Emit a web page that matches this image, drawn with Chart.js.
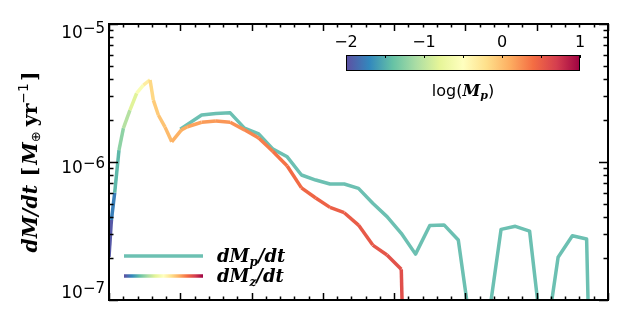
<!DOCTYPE html>
<html>
<head>
<meta charset="utf-8">
<script src="https://cdn.jsdelivr.net/npm/chart.js@4/dist/chart.umd.min.js"></script>
<style>
html, body { margin: 0; padding: 0; background: #fff; }
</style>
</head>
<body>
<canvas id="rateChart" width="641" height="311"></canvas>
<script>
// dM_z/dt, coloured by log(M_p)
var mzTime = [0, 0.17, 0.4, 0.7, 1.01, 1.47, 1.94, 2.41, 2.88, 3.11, 3.46, 3.93, 4.4, 5.08, 5.5,
    6.5, 7.5, 8.5, 9.5, 10.5, 11.5, 12.5, 13.5, 14.5, 15.5, 16.5, 17.5, 18.5, 19.5, 20.5, 21.5]
var mzRate = [2.05e-7, 3.8e-7, 6.0e-7, 1.22e-6, 1.76e-6, 2.38e-6, 3.15e-6, 3.61e-6, 3.93e-6, 2.81e-6, 2.19e-6,
    1.79e-6, 1.40e-6, 1.71e-6, 1.80e-6, 1.94e-6, 1.98e-6, 1.94e-6, 1.71e-6, 1.49e-6, 1.19e-6, 9.35e-7,
    6.49e-7, 5.48e-7, 4.69e-7, 4.29e-7, 3.49e-7, 2.5e-7, 2.12e-7, 1.67e-7, 1e-11]
var mzLogMp = [-2.0, -1.9, -1.6, -1.3, -1.15, -0.95, -0.7, -0.45, -0.2, -0.1, -0.05, 0.0, 0.05, 0.1, 0.12,
    0.18, 0.2, 0.22, 0.26, 0.3, 0.35, 0.4, 0.43, 0.46, 0.48, 0.5, 0.52, 0.54, 0.56, 0.58, 0.6]

// dM_p/dt
var mpTime = [5.0, 6.5, 7.5, 8.5, 9.5, 10.5, 11.5, 12.5, 13.5, 14.5, 15.5, 16.5, 17.5, 18.5, 19.5,
    20.5, 21.5, 22.5, 23.5, 24.5, 25.5, 26.5, 27.5, 28.5, 29.5, 30.5, 31.5, 32.5, 33.5, 34.5]
var mpRate = [1.73e-6, 2.19e-6, 2.25e-6, 2.27e-6, 1.76e-6, 1.6e-6, 1.24e-6, 1.09e-6, 8.05e-7, 7.4e-7,
    6.93e-7, 6.93e-7, 6.44e-7, 5.02e-7, 4.02e-7, 3.04e-7, 2.15e-7, 3.47e-7, 3.5e-7, 2.72e-7,
    5e-8, 6e-8, 3.25e-7, 3.42e-7, 3.16e-7, 4e-8, 2.04e-7, 2.92e-7, 2.77e-7, 1e-11]

// axis ticks / labels
var yDecades = [1e-5, 1e-6, 1e-7]
var yExponents = ['\u22125', '\u22126', '\u22127']
var yLabelShift = [14, 11, -2]
var cbarTicks = [-2, -1, 0, 1]
var cbarLabels = ['\u22122', '\u22121', '0', '1']

var spectral = ['#5e4fa2', '#3288bd', '#66c2a5', '#abdda4', '#e6f598', '#ffffbf',
    '#fee08b', '#fdae61', '#f46d43', '#d53e4f', '#9e0142']
var tealColor = '#6cc0b2'

function hexRgb(h) {
    return [parseInt(h.substr(1, 2), 16), parseInt(h.substr(3, 2), 16), parseInt(h.substr(5, 2), 16)]
}
function mpColor(v) {
    var t = Math.max(0, Math.min(1, (v + 2) / 3)) * (spectral.length - 1)
    var i = Math.min(Math.floor(t), spectral.length - 2)
    var f = t - i
    var a = hexRgb(spectral[i]), b = hexRgb(spectral[i + 1])
    var c = a.map(function (x, k) { return Math.round(x + (b[k] - x) * f) })
    return 'rgb(' + c.join(',') + ')'
}
function spectralGradient(ctx, x0, x1) {
    var g = ctx.createLinearGradient(x0, 0, x1, 0)
    spectral.forEach(function (c, i) { g.addColorStop(i / (spectral.length - 1), c) })
    return g
}

// draws a list of text pieces [{t, f, dy}] starting at x, returns width
function drawPieces(ctx, pieces, x, y, measureOnly) {
    var w = 0
    pieces.forEach(function (p) {
        ctx.font = p.f
        if (!measureOnly) ctx.fillText(p.t, x + w, y + (p.dy || 0))
        w += ctx.measureText(p.t).width + (p.sp || 0)
    })
    return w
}

var framePlugin = {
    id: 'framePlugin',
    afterDraw: function (chart) {
        var ctx = chart.ctx
        var area = chart.chartArea
        var xs = chart.scales.x, ys = chart.scales.y
        ctx.save()
        ctx.strokeStyle = '#000'
        ctx.fillStyle = '#000'

        // frame
        ctx.lineWidth = 2
        ctx.strokeRect(area.left, area.top, area.right - area.left, area.bottom - area.top)

        // x ticks, bottom and top
        ctx.lineWidth = 1.5
        ctx.beginPath()
        for (var v = xs.min; v <= xs.max; v++) {
            var px = Math.round(xs.getPixelForValue(v)) + 0.5
            var len = v % 5 === 0 ? 7 : 3.5
            ctx.moveTo(px, area.bottom); ctx.lineTo(px, area.bottom - len)
            ctx.moveTo(px, area.top); ctx.lineTo(px, area.top + len)
        }
        // y ticks, left and right
        for (var d = -7; d <= -5; d++) {
            for (var m = 1; m <= 9; m++) {
                var val = m * Math.pow(10, d)
                if (val > ys.max * 1.0001) break
                var py = Math.round(ys.getPixelForValue(val)) + 0.5
                var l = m === 1 ? 9 : 4.5
                ctx.moveTo(area.left, py); ctx.lineTo(area.left + l, py)
                ctx.moveTo(area.right, py); ctx.lineTo(area.right - l, py)
            }
        }
        ctx.stroke()

        // y tick labels
        ctx.textBaseline = 'alphabetic'
        ctx.textAlign = 'left'
        yDecades.forEach(function (dv, i) {
            var py = ys.getPixelForValue(dv) + yLabelShift[i]
            var pieces = [
                { t: '10', f: '17px "DejaVu Sans"' },
                { t: yExponents[i], f: '15px "DejaVu Sans"', dy: -5 }
            ]
            var w = drawPieces(ctx, pieces, 0, 0, true)
            drawPieces(ctx, pieces, 105 - w, py)
        })

        // y axis title
        var title = [
            { t: 'dM/dt', f: 'bold italic 19px "DejaVu Serif"', sp: 8 },
            { t: '[', f: 'bold 19px "DejaVu Serif"', sp: 2 },
            { t: 'M', f: 'bold italic 19px "DejaVu Serif"' },
            { t: '\u2295', f: '12px "DejaVu Sans"', dy: 3, sp: 5 },
            { t: 'yr', f: 'bold 19px "DejaVu Serif"' },
            { t: '\u22121', f: '13px "DejaVu Sans"', dy: -8, sp: 2 },
            { t: ']', f: 'bold 19px "DejaVu Serif"' }
        ]
        ctx.save()
        var tw = drawPieces(ctx, title, 0, 0, true)
        var sc = 181 / tw
        ctx.translate(37, (area.top + area.bottom) / 2)
        ctx.rotate(-Math.PI / 2)
        ctx.scale(sc, sc)
        drawPieces(ctx, title, -tw / 2, 0)
        ctx.restore()

        // colour bar
        var cbL = 346, cbR = 580, cbT = 55, cbB = 71
        ctx.fillStyle = spectralGradient(ctx, cbL, cbR)
        ctx.fillRect(cbL, cbT, cbR - cbL, cbB - cbT)
        ctx.fillStyle = '#000'
        ctx.lineWidth = 1
        ctx.strokeRect(cbL + 0.5, cbT + 0.5, cbR - cbL - 1, cbB - cbT - 1)
        ctx.beginPath()
        for (var c = -2; c <= 1; c += 0.5) {
            var cx = Math.round(cbL + (c + 2) / 3 * (cbR - cbL)) + 0.5
            ctx.moveTo(cx, cbT); ctx.lineTo(cx, cbT + 3)
        }
        ctx.stroke()
        ctx.textAlign = 'center'
        ctx.font = '16px "DejaVu Sans"'
        cbarTicks.forEach(function (c, i) {
            ctx.fillText(cbarLabels[i], cbL + (c + 2) / 3 * (cbR - cbL), 47)
        })
        ctx.textAlign = 'left'
        var cbTitle = [
            { t: 'log(', f: '16px "DejaVu Sans"' },
            { t: 'M', f: 'bold italic 16px "DejaVu Serif"' },
            { t: 'p', f: 'bold italic 11px "DejaVu Serif"', dy: 3 },
            { t: ')', f: '16px "DejaVu Sans"' }
        ]
        var cw = drawPieces(ctx, cbTitle, 0, 0, true)
        drawPieces(ctx, cbTitle, 463 - cw / 2, 96)

        // legend
        ctx.lineWidth = 3.5
        ctx.strokeStyle = tealColor
        ctx.beginPath(); ctx.moveTo(124, 256); ctx.lineTo(203, 256); ctx.stroke()
        ctx.strokeStyle = spectralGradient(ctx, 124, 203)
        ctx.beginPath(); ctx.moveTo(124, 276); ctx.lineTo(203, 276); ctx.stroke()
        var legRows = [['p', 262], ['z', 282]]
        legRows.forEach(function (r) {
            drawPieces(ctx, [
                { t: 'dM', f: 'bold italic 18px "DejaVu Serif"' },
                { t: r[0], f: 'bold italic 12px "DejaVu Serif"', dy: 4 },
                { t: '/dt', f: 'bold italic 18px "DejaVu Serif"' }
            ], 217, r[1])
        })
        ctx.restore()
    }
}

var rateCanvas = document.getElementById('rateChart').getContext('2d')
new Chart(rateCanvas, {
    type: 'line',
    data: {
        datasets: [
            {
                label: 'dMz/dt',
                data: mzTime.map(function (t, i) { return { x: t, y: mzRate[i] } }),
                borderColor: '#f46d43',
                borderWidth: 3.5,
                borderJoinStyle: 'round',
                pointRadius: 0,
                tension: 0,
                segment: {
                    borderColor: function (s) {
                        return mpColor((mzLogMp[s.p0DataIndex] + mzLogMp[s.p1DataIndex]) / 2)
                    }
                }
            },
            {
                label: 'dMp/dt',
                data: mpTime.map(function (t, i) { return { x: t, y: mpRate[i] } }),
                borderColor: tealColor,
                borderWidth: 3.5,
                borderJoinStyle: 'round',
                pointRadius: 0,
                tension: 0
            }
        ]
    },
    options: {
        responsive: false,
        animation: false,
        layout: { padding: { left: 109, right: 33, top: 24, bottom: 11 } },
        plugins: { legend: { display: false }, tooltip: { enabled: false } },
        scales: {
            x: { type: 'linear', min: 0, max: 35, display: false },
            y: { type: 'logarithmic', min: 1e-7, max: 1e-5, display: false }
        }
    },
    plugins: [framePlugin]
})
</script>
</body>
</html>
